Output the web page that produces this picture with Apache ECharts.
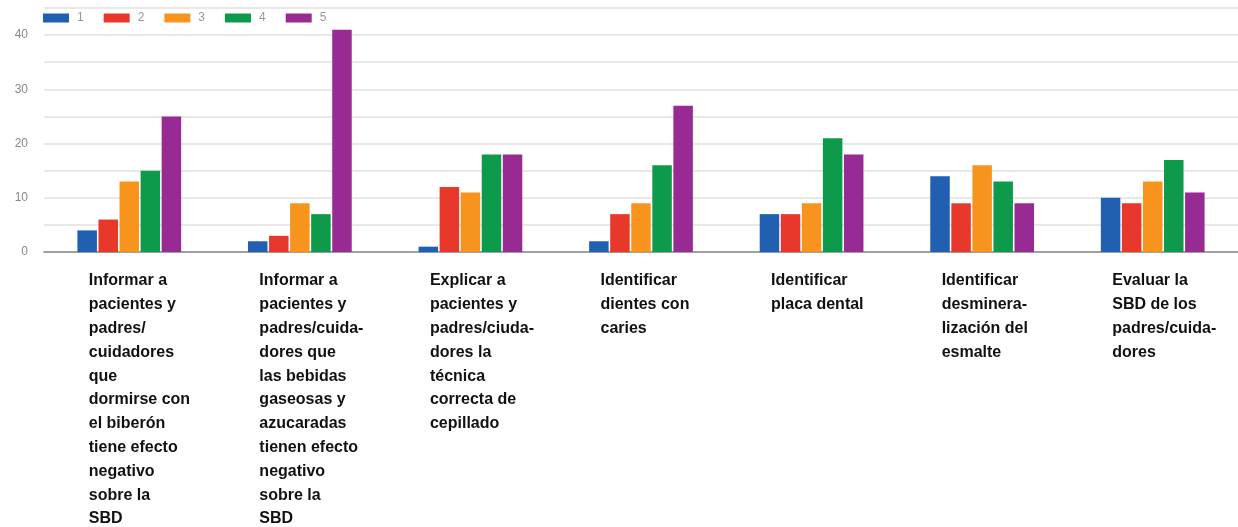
<!DOCTYPE html>
<html>
<head>
<meta charset="utf-8">
<script src="https://cdn.jsdelivr.net/npm/echarts@6/dist/echarts.min.js"></script>
<style>html,body{margin:0;padding:0;background:#fff;}#c{width:1238px;height:527px;}</style>
</head>
<body>
<div id="c"></div>
<script>
var categories = [
  "Informar a\npacientes y\npadres/\ncuidadores\nque\ndormirse con\nel biberón\ntiene efecto\nnegativo\nsobre la\nSBD",
  "Informar a\npacientes y\npadres/cuida-\ndores que\nlas bebidas\ngaseosas y\nazucaradas\ntienen efecto\nnegativo\nsobre la\nSBD",
  "Explicar a\npacientes y\npadres/ciuda-\ndores la\ntécnica\ncorrecta de\ncepillado",
  "Identificar\ndientes con\ncaries",
  "Identificar\nplaca dental",
  "Identificar\ndesminera-\nlización del\nesmalte",
  "Evaluar la\nSBD de los\npadres/cuida-\ndores"
];
var seriesNames = ["1", "2", "3", "4", "5"];
var s1 = [4, 2, 1, 2, 7, 14, 10];
var s2 = [6, 3, 12, 7, 7, 9, 9];
var s3 = [13, 9, 11, 9, 9, 16, 13];
var s4 = [15, 7, 18, 16, 21, 13, 17];
var s5 = [25, 41, 18, 27, 18, 9, 11];
var yTicks = [0, 10, 20, 30, 40];

var colors = ["#2160b0", "#e8382b", "#f7941d", "#0e9a4b", "#982a93"];
var values = [s1, s2, s3, s4, s5];
var chart = echarts.init(document.getElementById('c'));
chart.setOption({
  animation: false,
  color: colors,
  legend: {
    left: 38, top: 7,
    itemWidth: 26, itemHeight: 9, itemGap: 20,
    icon: 'rect',
    textStyle: { color: '#999', fontSize: 12, fontFamily: 'Liberation Sans, Arial', padding: [0, 0, 0, 3] },
    data: seriesNames
  },
  grid: { left: 44, right: -3, top: 8, bottom: 274 },
  xAxis: {
    type: 'category',
    data: categories,
    axisLine: { lineStyle: { color: '#888', width: 1.5 } },
    axisTick: { show: false },
    axisLabel: {
      interval: 0,
      margin: 17,
      align: 'center',
      verticalAlign: 'top',
      formatter: function (v) {
        return v.split('\n').map(function (l) { return '{a|' + l + '}'; }).join('\n');
      },
      rich: {
        a: { width: 81, align: 'left', fontSize: 16, lineHeight: 23.8, color: '#111',
             fontWeight: 'bold', fontFamily: 'Liberation Sans, Arial' }
      }
    }
  },
  yAxis: {
    type: 'value',
    min: 0, max: 45, interval: 5,
    axisLine: { show: false },
    axisTick: { show: false },
    splitLine: { lineStyle: { color: '#e0e0e0', width: 1.5 } },
    axisLabel: {
      margin: 16, color: '#888', fontSize: 12, fontFamily: 'Liberation Sans, Arial',
      formatter: function (v) { return yTicks.indexOf(v) >= 0 ? String(v) : ''; }
    }
  },
  series: values.map(function (arr, i) {
    return { name: seriesNames[i], type: 'bar', data: arr, barWidth: 19.5, barGap: '8%' };
  })
});
</script>
</body>
</html>
